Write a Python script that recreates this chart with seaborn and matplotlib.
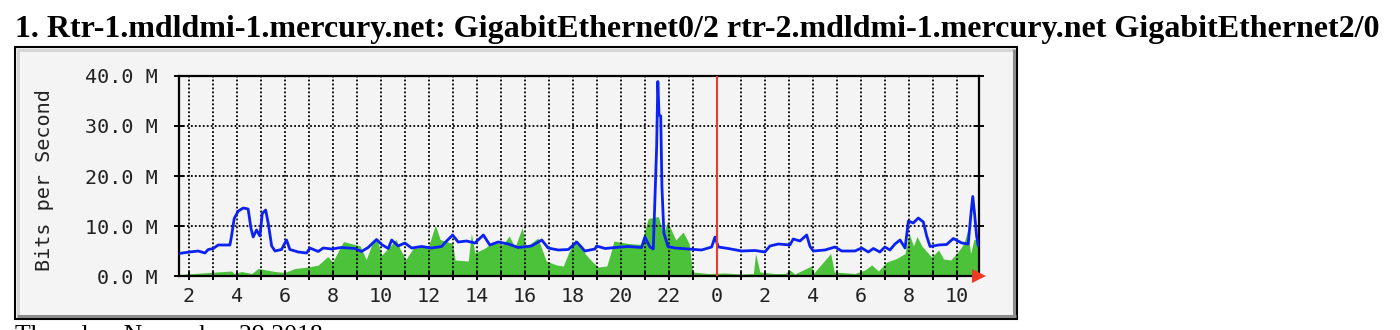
import matplotlib
matplotlib.use("Agg")
import matplotlib.pyplot as plt
from matplotlib.patches import Rectangle
from matplotlib.ticker import FixedLocator, FuncFormatter
import seaborn as sns
import pandas as pd

# ---------------- data (hours relative to midnight; values in Mbit/s) ----------------
title = "1. Rtr-1.mdldmi-1.mercury.net: GigabitEthernet0/2 rtr-2.mdldmi-1.mercury.net GigabitEthernet2/0"
date_text = "Thursday, November 29 2018"
y_label = "Bits per Second"
y_ticks = [0, 10, 20, 30, 40]
y_tick_labels = ["0.0 M", "10.0 M", "20.0 M", "30.0 M", "40.0 M"]
x_start, x_end = -22.40, 10.93

out_hours = [-22.40, -21.95, -21.60, -21.32, -21.18, -20.97, -20.77, -20.28, -20.21, -20.10,
             -19.93, -19.72, -19.52, -19.40, -19.31, -19.17, -19.03, -18.93, -18.79, -18.68,
             -18.54, -18.40, -18.13, -17.92, -17.78, -17.43, -17.08, -16.95, -16.60, -16.39,
             -16.04, -15.63, -15.07, -14.80, -14.52, -14.17, -13.96, -13.68, -13.54, -13.27,
             -12.99, -12.71, -12.29, -11.88, -11.46, -11.25, -11.00, -10.77, -10.42, -10.07,
             -9.72, -9.45, -9.10, -8.68, -8.27, -7.71, -7.29, -7.02, -6.60, -6.18,
             -5.83, -5.49, -5.07, -5.00, -4.65, -4.24, -3.68, -3.13, -2.99, -2.78,
             -2.64, -2.50, -2.45, -2.40, -2.33, -2.28, -2.20, -2.03, -1.74, -1.18,
             -0.63, -0.21, -0.07, 0.07, 0.48, 1.04, 1.60, 2.01, 2.22, 2.57,
             3.05, 3.19, 3.47, 3.75, 3.89, 4.03, 4.51, 4.93, 5.21, 5.76,
             6.04, 6.32, 6.53, 6.80, 7.01, 7.22, 7.43, 7.64, 7.85, 7.99,
             8.19, 8.40, 8.61, 8.75, 8.89, 9.24, 9.58, 9.86, 10.21, 10.48,
             10.60, 10.67, 10.74, 10.83, 10.90]
out_mbps = [4.5, 4.8, 5.0, 4.6, 5.3, 5.5, 6.2, 6.2, 8.0, 11.5,
            13.0, 13.6, 13.4, 9.5, 7.8, 9.2, 8.0, 12.5, 13.2, 10.5,
            6.0, 5.0, 5.3, 7.2, 5.3, 4.8, 4.6, 5.6, 4.9, 5.6,
            5.4, 5.7, 5.5, 4.9, 5.7, 7.3, 6.3, 5.5, 7.2, 6.0,
            6.6, 5.6, 5.9, 5.6, 5.9, 7.0, 8.2, 6.8, 7.0, 6.6,
            8.2, 6.2, 6.8, 6.4, 5.7, 6.0, 7.2, 5.6, 5.2, 5.3,
            6.8, 5.0, 5.4, 6.0, 5.5, 5.7, 5.9, 5.7, 7.8, 5.8,
            5.4, 25.9, 38.9, 32.2, 32.0, 17.9, 8.6, 5.9, 5.6, 5.4,
            5.2, 5.8, 7.8, 5.8, 5.5, 5.0, 5.1, 4.8, 6.0, 6.4,
            6.2, 7.4, 7.0, 8.2, 5.9, 5.0, 5.2, 5.8, 5.0, 5.0,
            5.6, 4.8, 5.5, 4.8, 5.8, 5.2, 6.4, 7.2, 5.6, 11.0,
            10.6, 11.6, 10.8, 8.0, 5.9, 6.2, 6.3, 7.5, 6.6, 6.4,
            12.7, 15.9, 12.7, 8.0, 6.0]

in_hours = [-22.40, -20.21, -20.10, -19.79, -19.38, -19.10, -18.40, -17.99, -17.57, -17.01,
            -16.60, -16.20, -16.00, -15.55, -14.85, -14.60, -14.35, -14.15, -13.95, -13.35,
            -13.20, -12.95, -12.65, -12.00, -11.72, -11.52, -11.00, -10.90, -10.35, -10.22,
            -10.07, -9.65, -9.31, -8.89, -8.65, -8.40, -8.10, -7.95, -7.45, -7.10,
            -6.67, -6.39, -6.18, -5.90, -5.62, -5.49, -5.21, -4.93, -4.58, -4.42,
            -4.28, -3.68, -3.13, -3.02, -2.85, -2.43, -2.22, -2.05, -1.70, -1.40,
            -1.15, -1.00, -0.35, 0.35, 1.04, 1.53, 1.62, 1.80, 2.43, 2.85,
            3.05, 3.25, 3.95, 4.05, 4.75, 4.90, 5.76, 6.18, 6.46, 6.74,
            7.08, 7.50, 7.85, 8.02, 8.20, 8.35, 8.55, 8.95, 9.25, 9.45,
            9.75, 10.05, 10.30, 10.45, 10.58, 10.72, 10.93]
in_mbps = [0.3, 1.0, 0.5, 0.9, 0.5, 1.5, 0.9, 0.7, 1.5, 1.8,
           2.2, 3.9, 2.8, 6.9, 6.0, 3.3, 6.5, 7.2, 4.2, 7.3,
           5.5, 3.3, 5.5, 6.0, 10.2, 7.3, 6.5, 3.2, 3.0, 8.5,
           4.6, 5.6, 6.8, 6.3, 8.0, 5.8, 9.7, 5.8, 7.6, 3.0,
           2.2, 2.0, 4.5, 7.3, 6.0, 4.5, 3.0, 1.8, 2.0, 4.5,
           7.0, 6.5, 6.3, 8.6, 11.5, 11.9, 8.4, 10.9, 7.2, 8.8,
           6.5, 0.8, 0.5, 0.6, 0.4, 0.5, 4.5, 0.8, 0.5, 0.5,
           1.2, 0.4, 2.0, 0.6, 4.5, 0.8, 0.5, 1.2, 2.2, 1.0,
           2.8, 3.5, 4.5, 8.5, 6.0, 7.9, 6.0, 3.8, 5.2, 3.4,
           3.2, 4.8, 6.5, 9.0, 4.5, 7.3, 7.3]

# ---------------- styling ----------------
GREEN = "#4cc23b"
BLUE = "#0b22f2"
RED = "#f03a28"
BG = "#f4f4f4"
MONO = "DejaVu Sans Mono"
SERIF = "Liberation Serif"

sns.set_style("white")
plt.rcParams["font.family"] = ["DejaVu Sans"]

W, H = 1400, 330
fig = plt.figure(figsize=(W / 100, H / 100), dpi=100)
fig.patch.set_facecolor("white")

# overlay in pixel coordinates for panel frame and page text
ov = fig.add_axes([0, 0, 1, 1], zorder=0)
ov.set_xlim(0, W)
ov.set_ylim(H, 0)
ov.axis("off")
ov.add_patch(Rectangle((15, 47), 1002, 271.5, facecolor=BG, edgecolor="black", lw=1.5))
ov.plot([17, 1014], [49.8, 49.8], color="#d6d6d6", lw=2.2, solid_capstyle="butt")
ov.plot([17.8, 17.8], [49, 315], color="#d6d6d6", lw=2.2, solid_capstyle="butt")
ov.plot([17, 1015.5], [316, 316], color="#8c8c8c", lw=2.2, solid_capstyle="butt")
ov.plot([1013.8, 1013.8], [49, 317], color="#8c8c8c", lw=2.2, solid_capstyle="butt")
ov.text(15, 36.5, title, fontfamily=SERIF, fontweight="bold", fontsize=23,
        va="baseline", ha="left", color="black")
ov.text(15, 325, date_text, fontfamily=SERIF, fontsize=18.5, va="top", ha="left", color="black")
ov.text(45, 180, y_label, fontfamily=MONO, fontsize=14.5, rotation=90,
        ha="center", va="center", color="#222222")

# main chart
ax = fig.add_axes([179 / W, (H - 276) / H, 800 / W, 200 / H], zorder=1)
ax.set_facecolor(BG)

in_df = pd.DataFrame({"hour": in_hours, "mbps": in_mbps})
out_df = pd.DataFrame({"hour": out_hours, "mbps": out_mbps})

ax.fill_between(in_df["hour"], 0, in_df["mbps"], color=GREEN, linewidth=0, zorder=2)
sns.lineplot(data=out_df, x="hour", y="mbps", ax=ax, color=BLUE, linewidth=2.0,
             estimator=None, sort=False, zorder=4)
ax.axvline(0, color=RED, lw=1.5, zorder=5)

ax.set_xlim(x_start, x_end)
ax.set_ylim(0, 40)

hours_all = list(range(-22, 11))
ax.xaxis.set_major_locator(FixedLocator([h for h in hours_all if h % 2 == 0]))
ax.xaxis.set_minor_locator(FixedLocator([h for h in hours_all if h % 2 != 0]))
ax.xaxis.set_major_formatter(FuncFormatter(lambda v, p: str(int(round(v)) % 24)))
ax.set_yticks(y_ticks)
ax.set_yticklabels(y_tick_labels)

ax.grid(which="both", axis="x", color="black", linestyle=(0, (1, 1.2)), lw=1.3, zorder=3)
ax.grid(which="major", axis="y", color="black", linestyle=(0, (1, 1.2)), lw=1.3, zorder=3)
ax.set_axisbelow(False)

for s in ax.spines.values():
    s.set_color("black")
    s.set_linewidth(1.6)
    s.set_visible(True)

ax.tick_params(axis="x", which="both", direction="inout", length=5.5, width=1.4,
               color="black", labelsize=14.5, labelcolor="#222222", pad=5,
               bottom=True, top=False)
ax.tick_params(axis="y", which="major", direction="inout", length=7, width=1.4,
               color="black", labelsize=14.5, labelcolor="#222222", pad=12,
               left=True, right=True, labelright=False)
for lab in ax.get_xticklabels() + ax.get_yticklabels():
    lab.set_fontfamily(MONO)
ax.set_xlabel("")
ax.set_ylabel("")

# red arrow at end of time axis
ax.plot([x_end], [0], marker=">", color=RED, markersize=10, clip_on=False, zorder=6,
        markeredgewidth=0)

fig.savefig("out.png", dpi=100, facecolor="white")
